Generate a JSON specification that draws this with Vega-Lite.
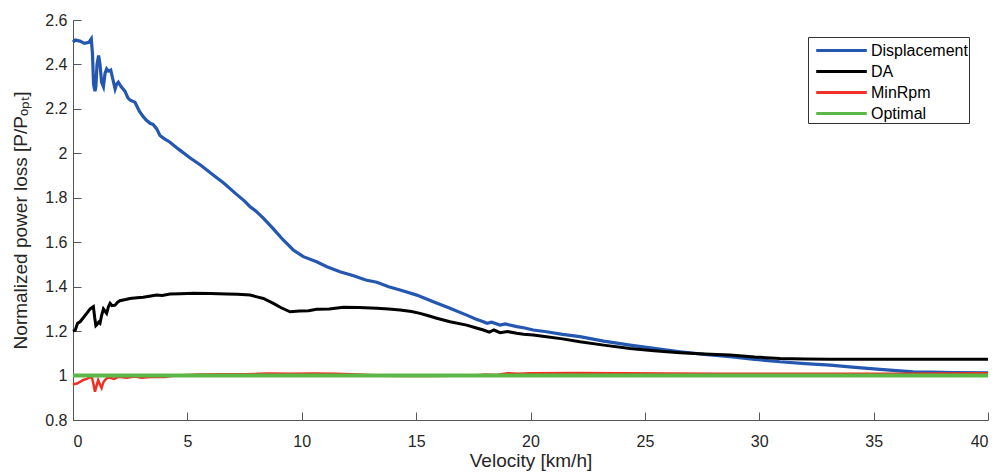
{
  "$schema": "https://vega.github.io/schema/vega-lite/v6.json",
  "width": 915,
  "height": 400,
  "autosize": {"type": "none"},
  "padding": {"left": 73, "top": 20, "right": 12, "bottom": 54},
  "background": "white",
  "config": {
    "view": {"stroke": null},
    "font": "Liberation Sans",
    "axis": {
      "grid": false,
      "domainColor": "#555555",
      "tickColor": "#555555",
      "tickSize": -8,
      "labelColor": "#262626",
      "titleColor": "#262626",
      "labelFont": "Liberation Sans",
      "titleFont": "Liberation Sans",
      "labelFontSize": 16,
      "titleFontSize": 19,
      "titleFontWeight": "normal"
    }
  },
  "data": {
    "values": [
      {"v": 0, "y": 2.50, "s": "Displacement"},
      {"v": 0.1, "y": 2.51, "s": "Displacement"},
      {"v": 0.3, "y": 2.505, "s": "Displacement"},
      {"v": 0.5, "y": 2.495, "s": "Displacement"},
      {"v": 0.7, "y": 2.50, "s": "Displacement"},
      {"v": 0.8, "y": 2.515, "s": "Displacement"},
      {"v": 0.85, "y": 2.45, "s": "Displacement"},
      {"v": 0.9, "y": 2.31, "s": "Displacement"},
      {"v": 0.96, "y": 2.28, "s": "Displacement"},
      {"v": 1.0, "y": 2.30, "s": "Displacement"},
      {"v": 1.05, "y": 2.40, "s": "Displacement"},
      {"v": 1.12, "y": 2.44, "s": "Displacement"},
      {"v": 1.18, "y": 2.40, "s": "Displacement"},
      {"v": 1.25, "y": 2.32, "s": "Displacement"},
      {"v": 1.33, "y": 2.30, "s": "Displacement"},
      {"v": 1.4, "y": 2.36, "s": "Displacement"},
      {"v": 1.47, "y": 2.38, "s": "Displacement"},
      {"v": 1.55, "y": 2.37, "s": "Displacement"},
      {"v": 1.65, "y": 2.375, "s": "Displacement"},
      {"v": 1.75, "y": 2.33, "s": "Displacement"},
      {"v": 1.84, "y": 2.29, "s": "Displacement"},
      {"v": 1.9, "y": 2.31, "s": "Displacement"},
      {"v": 1.98, "y": 2.32, "s": "Displacement"},
      {"v": 2.1, "y": 2.30, "s": "Displacement"},
      {"v": 2.27, "y": 2.28, "s": "Displacement"},
      {"v": 2.4, "y": 2.25, "s": "Displacement"},
      {"v": 2.49, "y": 2.24, "s": "Displacement"},
      {"v": 2.6, "y": 2.235, "s": "Displacement"},
      {"v": 2.71, "y": 2.23, "s": "Displacement"},
      {"v": 2.9, "y": 2.19, "s": "Displacement"},
      {"v": 3.07, "y": 2.165, "s": "Displacement"},
      {"v": 3.2, "y": 2.15, "s": "Displacement"},
      {"v": 3.37, "y": 2.135, "s": "Displacement"},
      {"v": 3.5, "y": 2.13, "s": "Displacement"},
      {"v": 3.66, "y": 2.11, "s": "Displacement"},
      {"v": 3.8, "y": 2.08, "s": "Displacement"},
      {"v": 4.0, "y": 2.065, "s": "Displacement"},
      {"v": 4.24, "y": 2.05, "s": "Displacement"},
      {"v": 4.6, "y": 2.02, "s": "Displacement"},
      {"v": 5.11, "y": 1.98, "s": "Displacement"},
      {"v": 5.6, "y": 1.945, "s": "Displacement"},
      {"v": 6.1, "y": 1.905, "s": "Displacement"},
      {"v": 6.6, "y": 1.865, "s": "Displacement"},
      {"v": 7.1, "y": 1.82, "s": "Displacement"},
      {"v": 7.5, "y": 1.785, "s": "Displacement"},
      {"v": 7.74, "y": 1.76, "s": "Displacement"},
      {"v": 8.0, "y": 1.74, "s": "Displacement"},
      {"v": 8.32, "y": 1.708, "s": "Displacement"},
      {"v": 8.76, "y": 1.66, "s": "Displacement"},
      {"v": 9.19, "y": 1.61, "s": "Displacement"},
      {"v": 9.63, "y": 1.565, "s": "Displacement"},
      {"v": 10.07, "y": 1.535, "s": "Displacement"},
      {"v": 10.65, "y": 1.512, "s": "Displacement"},
      {"v": 11.1, "y": 1.49, "s": "Displacement"},
      {"v": 11.67, "y": 1.467, "s": "Displacement"},
      {"v": 12.3, "y": 1.448, "s": "Displacement"},
      {"v": 12.8, "y": 1.43, "s": "Displacement"},
      {"v": 13.28, "y": 1.42, "s": "Displacement"},
      {"v": 13.8, "y": 1.40, "s": "Displacement"},
      {"v": 14.3, "y": 1.385, "s": "Displacement"},
      {"v": 15.03, "y": 1.362, "s": "Displacement"},
      {"v": 15.75, "y": 1.332, "s": "Displacement"},
      {"v": 16.48, "y": 1.303, "s": "Displacement"},
      {"v": 17.21, "y": 1.272, "s": "Displacement"},
      {"v": 17.6, "y": 1.255, "s": "Displacement"},
      {"v": 17.94, "y": 1.242, "s": "Displacement"},
      {"v": 18.1, "y": 1.235, "s": "Displacement"},
      {"v": 18.3, "y": 1.24, "s": "Displacement"},
      {"v": 18.67, "y": 1.227, "s": "Displacement"},
      {"v": 18.9, "y": 1.232, "s": "Displacement"},
      {"v": 19.4, "y": 1.22, "s": "Displacement"},
      {"v": 19.7, "y": 1.215, "s": "Displacement"},
      {"v": 20.12, "y": 1.205, "s": "Displacement"},
      {"v": 20.7, "y": 1.197, "s": "Displacement"},
      {"v": 21.4, "y": 1.185, "s": "Displacement"},
      {"v": 22.16, "y": 1.175, "s": "Displacement"},
      {"v": 23.2, "y": 1.155, "s": "Displacement"},
      {"v": 24.35, "y": 1.137, "s": "Displacement"},
      {"v": 25.4, "y": 1.122, "s": "Displacement"},
      {"v": 26.54, "y": 1.107, "s": "Displacement"},
      {"v": 27.6, "y": 1.095, "s": "Displacement"},
      {"v": 28.72, "y": 1.085, "s": "Displacement"},
      {"v": 29.8, "y": 1.073, "s": "Displacement"},
      {"v": 30.9, "y": 1.062, "s": "Displacement"},
      {"v": 32.0, "y": 1.054, "s": "Displacement"},
      {"v": 33.09, "y": 1.047, "s": "Displacement"},
      {"v": 34.2, "y": 1.037, "s": "Displacement"},
      {"v": 35.28, "y": 1.028, "s": "Displacement"},
      {"v": 36.0, "y": 1.022, "s": "Displacement"},
      {"v": 36.73, "y": 1.017, "s": "Displacement"},
      {"v": 37.5, "y": 1.015, "s": "Displacement"},
      {"v": 38.5, "y": 1.013, "s": "Displacement"},
      {"v": 40, "y": 1.012, "s": "Displacement"},

      {"v": 0, "y": 1.20, "s": "DA"},
      {"v": 0.1, "y": 1.205, "s": "DA"},
      {"v": 0.2, "y": 1.235, "s": "DA"},
      {"v": 0.31, "y": 1.242, "s": "DA"},
      {"v": 0.45, "y": 1.26, "s": "DA"},
      {"v": 0.6, "y": 1.28, "s": "DA"},
      {"v": 0.75, "y": 1.30, "s": "DA"},
      {"v": 0.89, "y": 1.31, "s": "DA"},
      {"v": 0.95, "y": 1.26, "s": "DA"},
      {"v": 1.0, "y": 1.225, "s": "DA"},
      {"v": 1.05, "y": 1.23, "s": "DA"},
      {"v": 1.12, "y": 1.24, "s": "DA"},
      {"v": 1.18, "y": 1.235, "s": "DA"},
      {"v": 1.25, "y": 1.27, "s": "DA"},
      {"v": 1.33, "y": 1.30, "s": "DA"},
      {"v": 1.4, "y": 1.29, "s": "DA"},
      {"v": 1.47, "y": 1.28, "s": "DA"},
      {"v": 1.55, "y": 1.31, "s": "DA"},
      {"v": 1.62, "y": 1.325, "s": "DA"},
      {"v": 1.7, "y": 1.315, "s": "DA"},
      {"v": 1.84, "y": 1.317, "s": "DA"},
      {"v": 1.95, "y": 1.33, "s": "DA"},
      {"v": 2.05, "y": 1.337, "s": "DA"},
      {"v": 2.3, "y": 1.342, "s": "DA"},
      {"v": 2.49, "y": 1.347, "s": "DA"},
      {"v": 2.8, "y": 1.35, "s": "DA"},
      {"v": 3.07, "y": 1.352, "s": "DA"},
      {"v": 3.4, "y": 1.358, "s": "DA"},
      {"v": 3.66, "y": 1.362, "s": "DA"},
      {"v": 3.9, "y": 1.36, "s": "DA"},
      {"v": 4.24, "y": 1.367, "s": "DA"},
      {"v": 4.7, "y": 1.368, "s": "DA"},
      {"v": 5.26, "y": 1.37, "s": "DA"},
      {"v": 6.0, "y": 1.369, "s": "DA"},
      {"v": 6.72, "y": 1.367, "s": "DA"},
      {"v": 7.2, "y": 1.366, "s": "DA"},
      {"v": 7.74, "y": 1.362, "s": "DA"},
      {"v": 8.0, "y": 1.355, "s": "DA"},
      {"v": 8.32, "y": 1.347, "s": "DA"},
      {"v": 8.76, "y": 1.325, "s": "DA"},
      {"v": 9.1, "y": 1.305, "s": "DA"},
      {"v": 9.49, "y": 1.287, "s": "DA"},
      {"v": 9.9, "y": 1.29, "s": "DA"},
      {"v": 10.3, "y": 1.292, "s": "DA"},
      {"v": 10.65, "y": 1.298, "s": "DA"},
      {"v": 11.2, "y": 1.30, "s": "DA"},
      {"v": 11.82, "y": 1.307, "s": "DA"},
      {"v": 12.5, "y": 1.306, "s": "DA"},
      {"v": 13.28, "y": 1.303, "s": "DA"},
      {"v": 13.8, "y": 1.30, "s": "DA"},
      {"v": 14.3, "y": 1.295, "s": "DA"},
      {"v": 14.8, "y": 1.288, "s": "DA"},
      {"v": 15.17, "y": 1.28, "s": "DA"},
      {"v": 15.5, "y": 1.27, "s": "DA"},
      {"v": 15.9, "y": 1.258, "s": "DA"},
      {"v": 16.48, "y": 1.242, "s": "DA"},
      {"v": 17.21, "y": 1.227, "s": "DA"},
      {"v": 17.6, "y": 1.215, "s": "DA"},
      {"v": 17.94, "y": 1.205, "s": "DA"},
      {"v": 18.2, "y": 1.195, "s": "DA"},
      {"v": 18.4, "y": 1.205, "s": "DA"},
      {"v": 18.67, "y": 1.193, "s": "DA"},
      {"v": 19.0, "y": 1.198, "s": "DA"},
      {"v": 19.4, "y": 1.19, "s": "DA"},
      {"v": 19.7, "y": 1.186, "s": "DA"},
      {"v": 20.12, "y": 1.182, "s": "DA"},
      {"v": 20.7, "y": 1.175, "s": "DA"},
      {"v": 21.4, "y": 1.165, "s": "DA"},
      {"v": 22.16, "y": 1.152, "s": "DA"},
      {"v": 23.2, "y": 1.137, "s": "DA"},
      {"v": 24.35, "y": 1.122, "s": "DA"},
      {"v": 25.4, "y": 1.112, "s": "DA"},
      {"v": 26.54, "y": 1.103, "s": "DA"},
      {"v": 27.6, "y": 1.097, "s": "DA"},
      {"v": 28.72, "y": 1.092, "s": "DA"},
      {"v": 29.8, "y": 1.083, "s": "DA"},
      {"v": 30.9, "y": 1.077, "s": "DA"},
      {"v": 32.0, "y": 1.074, "s": "DA"},
      {"v": 33.09, "y": 1.073, "s": "DA"},
      {"v": 35, "y": 1.073, "s": "DA"},
      {"v": 37, "y": 1.073, "s": "DA"},
      {"v": 40, "y": 1.073, "s": "DA"},

      {"v": 0, "y": 0.96, "s": "MinRpm"},
      {"v": 0.2, "y": 0.965, "s": "MinRpm"},
      {"v": 0.45, "y": 0.98, "s": "MinRpm"},
      {"v": 0.6, "y": 0.985, "s": "MinRpm"},
      {"v": 0.82, "y": 0.995, "s": "MinRpm"},
      {"v": 0.9, "y": 0.96, "s": "MinRpm"},
      {"v": 0.96, "y": 0.927, "s": "MinRpm"},
      {"v": 1.02, "y": 0.95, "s": "MinRpm"},
      {"v": 1.1, "y": 0.98, "s": "MinRpm"},
      {"v": 1.18, "y": 0.96, "s": "MinRpm"},
      {"v": 1.25, "y": 0.944, "s": "MinRpm"},
      {"v": 1.33, "y": 0.97, "s": "MinRpm"},
      {"v": 1.4, "y": 0.98, "s": "MinRpm"},
      {"v": 1.5, "y": 0.99, "s": "MinRpm"},
      {"v": 1.62, "y": 0.99, "s": "MinRpm"},
      {"v": 1.8, "y": 0.985, "s": "MinRpm"},
      {"v": 2.0, "y": 0.995, "s": "MinRpm"},
      {"v": 2.35, "y": 0.99, "s": "MinRpm"},
      {"v": 2.7, "y": 0.996, "s": "MinRpm"},
      {"v": 3.0, "y": 0.99, "s": "MinRpm"},
      {"v": 3.5, "y": 0.995, "s": "MinRpm"},
      {"v": 4.0, "y": 0.993, "s": "MinRpm"},
      {"v": 4.3, "y": 0.998, "s": "MinRpm"},
      {"v": 5.0, "y": 1.003, "s": "MinRpm"},
      {"v": 5.5, "y": 1.005, "s": "MinRpm"},
      {"v": 6.5, "y": 1.006, "s": "MinRpm"},
      {"v": 7.5, "y": 1.006, "s": "MinRpm"},
      {"v": 8.5, "y": 1.009, "s": "MinRpm"},
      {"v": 9.5, "y": 1.008, "s": "MinRpm"},
      {"v": 10.5, "y": 1.009, "s": "MinRpm"},
      {"v": 11.5, "y": 1.008, "s": "MinRpm"},
      {"v": 12.5, "y": 1.005, "s": "MinRpm"},
      {"v": 13.5, "y": 0.999, "s": "MinRpm"},
      {"v": 14.5, "y": 0.998, "s": "MinRpm"},
      {"v": 15.5, "y": 0.998, "s": "MinRpm"},
      {"v": 16.5, "y": 0.999, "s": "MinRpm"},
      {"v": 17.5, "y": 0.999, "s": "MinRpm"},
      {"v": 18.0, "y": 1.005, "s": "MinRpm"},
      {"v": 18.5, "y": 1.003, "s": "MinRpm"},
      {"v": 19.0, "y": 1.01, "s": "MinRpm"},
      {"v": 19.5, "y": 1.008, "s": "MinRpm"},
      {"v": 20, "y": 1.01, "s": "MinRpm"},
      {"v": 22, "y": 1.011, "s": "MinRpm"},
      {"v": 24, "y": 1.01, "s": "MinRpm"},
      {"v": 26, "y": 1.009, "s": "MinRpm"},
      {"v": 28, "y": 1.008, "s": "MinRpm"},
      {"v": 30, "y": 1.008, "s": "MinRpm"},
      {"v": 32, "y": 1.008, "s": "MinRpm"},
      {"v": 34, "y": 1.008, "s": "MinRpm"},
      {"v": 36, "y": 1.008, "s": "MinRpm"},
      {"v": 38, "y": 1.009, "s": "MinRpm"},
      {"v": 40, "y": 1.01, "s": "MinRpm"},

      {"v": 0, "y": 1.0, "s": "Optimal"},
      {"v": 40, "y": 1.0, "s": "Optimal"}
    ]
  },
  "encoding": {
    "x": {
      "field": "v", "type": "quantitative",
      "scale": {"domain": [0, 40], "nice": false},
      "axis": {"values": [0, 5, 10, 15, 20, 25, 30, 35, 40], "title": "Velocity [km/h]", "labelPadding": 21, "titlePadding": 2}
    },
    "y": {
      "field": "y", "type": "quantitative",
      "scale": {"domain": [0.8, 2.6], "nice": false, "zero": false},
      "axis": {"values": [0.8, 1, 1.2, 1.4, 1.6, 1.8, 2, 2.2, 2.4, 2.6], "format": "~g", "title": "Normalized power loss [P/Pₒₚₜ]", "labelPadding": 14, "titlePadding": 14}
    },
    "color": {
      "field": "s", "type": "nominal",
      "scale": {"domain": ["Displacement", "DA", "MinRpm", "Optimal"], "range": ["#2457b0", "#000000", "#ee3124", "#5cb846"]},
      "legend": {
        "title": null,
        "orient": "none",
        "legendX": 735,
        "legendY": 17,
        "symbolType": "M-0.48,0H4.12",
        "symbolSize": 484,
        "symbolStrokeWidth": 3,
        "labelFontSize": 16,
        "labelOffset": 37,
        "labelColor": "#000000",
        "labelFont": "Liberation Sans",
        "labelExpr": "datum.label + '\u00a0\u00a0\u00a0'",
        "strokeColor": "#333333",
        "fillColor": "white",
        "padding": 1,
        "rowPadding": 0
      }
    }
  },
  "layer": [
    {"transform": [{"filter": "datum.s == 'Displacement'"}], "mark": {"type": "line", "strokeWidth": 3.2}},
    {"transform": [{"filter": "datum.s == 'DA'"}], "mark": {"type": "line", "strokeWidth": 3}},
    {"transform": [{"filter": "datum.s == 'MinRpm'"}], "mark": {"type": "line", "strokeWidth": 2.5}},
    {"transform": [{"filter": "datum.s == 'Optimal'"}], "mark": {"type": "line", "strokeWidth": 4}}
  ]
}
